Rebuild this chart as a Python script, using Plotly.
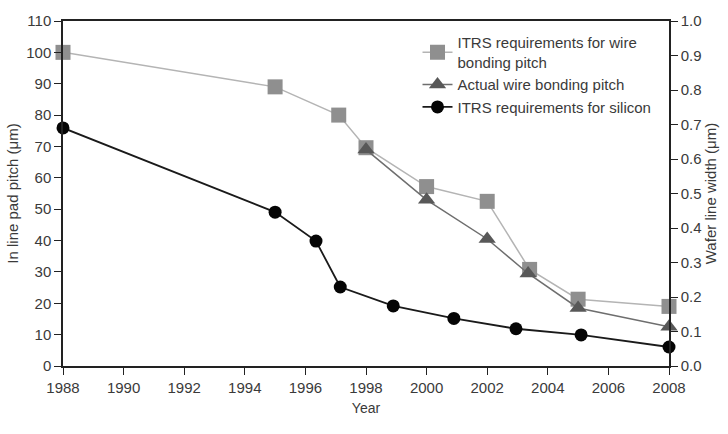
import plotly.graph_objects as go

# ITRS requirements for wire bonding pitch (µm, left axis)
sq_years = [1988, 1995, 1997.1, 1998, 2000, 2002, 2003.4, 2005, 2008]
sq_vals = [100, 89, 80, 69.6, 57.2, 52.5, 30.8, 21.3, 19]

# Actual wire bonding pitch (µm, left axis)
tri_years = [1998, 2000, 2002, 2003.35, 2005, 2008]
tri_vals = [69, 53, 40.5, 29.5, 18.5, 12.5]

# ITRS requirements for silicon (wafer line width, µm, right axis)
si_years = [1988, 1995, 1996.35, 1997.15, 1998.9, 2000.9, 2002.95, 2005.1, 2008]
si_vals = [0.69, 0.446, 0.362, 0.229, 0.174, 0.138, 0.108, 0.09, 0.055]

x_ticks = list(range(1988, 2009, 2))
y_ticks = list(range(0, 111, 10))
y2_ticks = [round(i * 0.1, 1) for i in range(11)]

FONT = "Liberation Sans, Arial, sans-serif"
TXT = "#3a3a3a"

fig = go.Figure()
fig.add_trace(go.Scatter(
    x=sq_years, y=sq_vals, mode="lines+markers",
    name="ITRS requirements for wire<br>bonding pitch",
    line=dict(color="#b4b4b4", width=1.5),
    marker=dict(symbol="square", size=15, color="#8f8f8f"),
    cliponaxis=False,
))
fig.add_trace(go.Scatter(
    x=tri_years, y=tri_vals, mode="lines+markers",
    name="Actual wire bonding pitch",
    line=dict(color="#6e6e6e", width=1.5),
    marker=dict(symbol="triangle-up", size=15, color="#585858"),
    cliponaxis=False,
))
fig.add_trace(go.Scatter(
    x=si_years, y=si_vals, mode="lines+markers", yaxis="y2",
    name="ITRS requirements for silicon",
    line=dict(color="#1a1a1a", width=1.8),
    marker=dict(symbol="circle", size=13, color="#050505"),
    cliponaxis=False,
))

fig.update_layout(
    width=728, height=434,
    margin=dict(l=63, r=57, t=20, b=68),
    paper_bgcolor="white", plot_bgcolor="white",
    font=dict(family=FONT, size=15, color=TXT),
    showlegend=True,
    legend=dict(
        x=0.585, y=0.985, xanchor="left", yanchor="top",
        bgcolor="rgba(0,0,0,0)", font=dict(size=15, color=TXT),
        tracegroupgap=0,
    ),
    xaxis=dict(
        range=[1988, 2008], tickvals=x_ticks, ticktext=[str(t) for t in x_ticks],
        showgrid=False, zeroline=False, showline=True, linecolor="#222",
        linewidth=1.5, mirror=True, ticks="outside", ticklen=7, tickcolor="#222",
        tickfont=dict(size=15, color=TXT),
        title=dict(text="Year", font=dict(size=14, color=TXT), standoff=8),
    ),
    yaxis=dict(
        range=[0, 110], tickvals=y_ticks, showgrid=False, zeroline=False,
        showline=True, linecolor="#222", linewidth=1.5, ticks="outside",
        ticklen=7, tickcolor="#222", tickfont=dict(size=15, color=TXT),
        title=dict(text="In line pad pitch (μm)", font=dict(size=15, color=TXT), standoff=4),
    ),
    yaxis2=dict(
        range=[0, 1.0], tickvals=y2_ticks, ticktext=[f"{v:.1f}" for v in y2_ticks],
        overlaying="y", side="right", showgrid=False, zeroline=False,
        showline=True, linecolor="#222", linewidth=1.5, ticks="outside",
        ticklen=7, tickcolor="#222", tickfont=dict(size=15, color=TXT),
        title=dict(text="Wafer line width (μm)", font=dict(size=15, color=TXT), standoff=4),
    ),
)

fig.write_html("out.html")
